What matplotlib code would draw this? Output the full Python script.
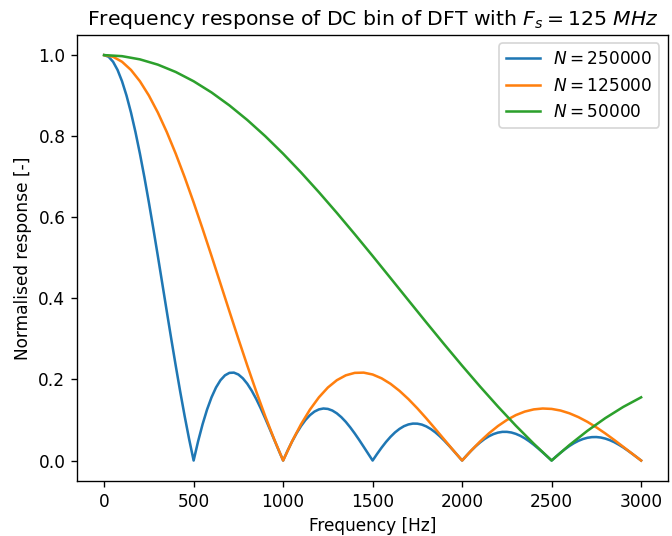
import matplotlib
matplotlib.use('Agg')
import matplotlib.pyplot as plt

# frequency grid (Hz) for N = 250000 (steep main lobe, finer sampling)
freq_250k = list(range(0, 3001, 25))
resp_250k = [1.0, 0.9959, 0.9836, 0.9634, 0.9355, 0.9003, 0.8584, 0.8103, 0.7568, 0.6987,
             0.6366, 0.5716, 0.5046, 0.4363, 0.3679, 0.3001, 0.2339, 0.1700, 0.1093, 0.0524,
             0.0, 0.0474, 0.0894, 0.1257, 0.1559, 0.1801, 0.1981, 0.2101, 0.2162, 0.2168,
             0.2122, 0.2028, 0.1892, 0.1719, 0.1515, 0.1286, 0.1039, 0.0781, 0.0518, 0.0255,
             0.0, 0.0243, 0.0468, 0.0672, 0.0850, 0.1000, 0.1120, 0.1207, 0.1261, 0.1283,
             0.1273, 0.1233, 0.1164, 0.1070, 0.0954, 0.0818, 0.0668, 0.0507, 0.0339, 0.0169,
             0.0, 0.0163, 0.0317, 0.0459, 0.0585, 0.0693, 0.0780, 0.0847, 0.0890, 0.0911,
             0.0909, 0.0886, 0.0841, 0.0777, 0.0696, 0.0600, 0.0492, 0.0375, 0.0252, 0.0126,
             0.0, 0.0123, 0.0240, 0.0348, 0.0445, 0.0530, 0.0599, 0.0652, 0.0688, 0.0707,
             0.0707, 0.0691, 0.0658, 0.0610, 0.0548, 0.0474, 0.0390, 0.0298, 0.0201, 0.0101,
             0.0, 0.0099, 0.0193, 0.0281, 0.0360, 0.0429, 0.0486, 0.0530, 0.0561, 0.0577,
             0.0579, 0.0567, 0.0541, 0.0502, 0.0452, 0.0391, 0.0323, 0.0247, 0.0167, 0.0084,
             0.0]

# frequency grid (Hz) for N = 125000
freq_125k = list(range(0, 3001, 50))
resp_125k = [1.0, 0.9959, 0.9836, 0.9634, 0.9355, 0.9003, 0.8584, 0.8103, 0.7568, 0.6987,
             0.6366, 0.5716, 0.5046, 0.4363, 0.3679, 0.3001, 0.2339, 0.1700, 0.1093, 0.0524,
             0.0, 0.0474, 0.0894, 0.1257, 0.1559, 0.1801, 0.1981, 0.2101, 0.2162, 0.2168,
             0.2122, 0.2028, 0.1892, 0.1719, 0.1515, 0.1286, 0.1039, 0.0781, 0.0518, 0.0255,
             0.0, 0.0243, 0.0468, 0.0672, 0.0850, 0.1000, 0.1120, 0.1207, 0.1261, 0.1283,
             0.1273, 0.1233, 0.1164, 0.1070, 0.0954, 0.0818, 0.0668, 0.0507, 0.0339, 0.0169,
             0.0]

# coarser grid is enough for the smooth N = 50000 curve
freq_50k = list(range(0, 3001, 100))
resp_50k = [1.0, 0.9974, 0.9895, 0.9765, 0.9584, 0.9355, 0.9079, 0.8759, 0.8399, 0.8001,
            0.7568, 0.7106, 0.6618, 0.6109, 0.5583, 0.5046, 0.4500, 0.3952, 0.3406, 0.2867,
            0.2339, 0.1826, 0.1332, 0.0860, 0.0416, 0.0, 0.0384, 0.0733, 0.1046, 0.1322,
            0.1559]

# original looks like a default-size figure scaled up, so use a higher dpi
fig, ax = plt.subplots(figsize=(672 / 122, 536 / 122), dpi=122)
ax.plot(freq_250k, resp_250k, label='$N = 250000$')
ax.plot(freq_125k, resp_125k, label='$N = 125000$')
ax.plot(freq_50k, resp_50k, label='$N = 50000$')

ax.set_title('Frequency response of DC bin of DFT with $F_s = 125$ $MHz$')
ax.set_xlabel('Frequency [Hz]')
ax.set_ylabel('Normalised response [-]')
ax.legend(loc='upper right')

plt.subplots_adjust(left=0.115, right=0.994, top=0.935, bottom=0.103)
plt.savefig('out.png', dpi=122)
